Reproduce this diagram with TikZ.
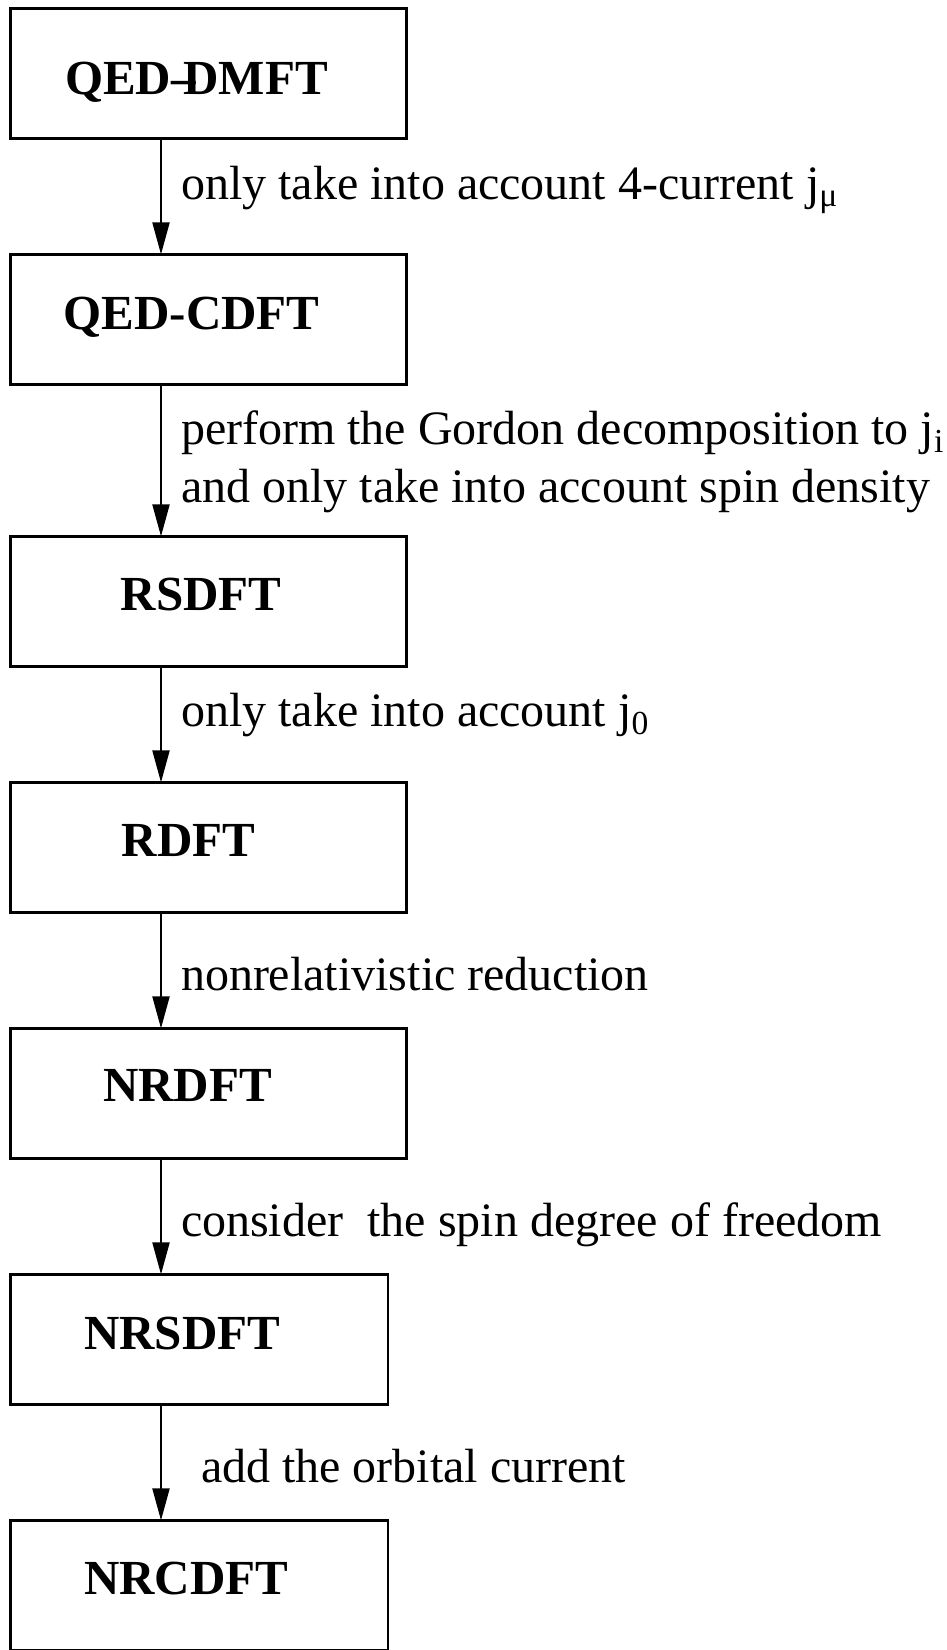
\documentclass[tikz,border=0pt]{standalone}
\usepackage{fontspec}
\setmainfont{Liberation Serif}
\usetikzlibrary{positioning,arrows.meta}

\begin{document}
\begin{tikzpicture}[node distance=58pt,
  box/.style={draw, rectangle, line width=1.2pt, minimum width=198pt, minimum height=65pt, inner sep=0pt, outer sep=0pt},
  short/.style={minimum width=188.75pt},
  title/.style={font=\fontsize{24.5}{28}\selectfont\bfseries, inner sep=0pt, text height=16.2pt, text depth=0pt},
  lbl/.style={anchor=base west, inner sep=0pt, font=\fontsize{24}{28}\selectfont},
  arrow/.style={draw, -{Triangle[length=16pt, width=8.5pt]}, line width=1pt}]
    \useasboundingbox (0,0) rectangle (473.5pt,-825pt);
    % nodes
    \node[box, anchor=north west, label={[title, xshift=-6pt, yshift=-2.5pt]center:QED--\kern-.25em DMFT}] (dmft) at (5.25pt,-4.2pt) {};
    \node[box, below=of dmft, label={[title, xshift=-8.5pt, yshift=3pt]center:QED-CDFT}] (cdft) {};
    \node[box, below=76pt of cdft, label={[title, xshift=-3.75pt, yshift=3.5pt]center:RSDFT}] (rsdft) {};
    \node[box, below=of rsdft, label={[title, xshift=-10pt, yshift=3.5pt]center:RDFT}] (rdft) {};
    \node[box, below=of rdft, label={[title, xshift=-10.5pt, yshift=4pt]center:NRDFT}] (nrdft) {};
    \node[box, short, below=58pt of nrdft.south west, anchor=north west, label={[title, xshift=-8.5pt, yshift=3.25pt]center:NRSDFT}] (nrsdft) {};
    \node[box, short, below=of nrsdft, label={[title, xshift=-6.5pt, yshift=3.5pt]center:NRCDFT}] (nrcdft) {};

    % arrows
    \draw[arrow] ([xshift=75.25pt]dmft.south west) -- node[lbl, xshift=9.5pt, yshift=-1.5pt] {only take into account 4-current j\textsubscript{μ}} ([xshift=75.25pt]cdft.north west);
    \draw[arrow] ([xshift=75.25pt]cdft.south west) -- node[lbl, xshift=9.5pt, yshift=7.75pt] {perform the Gordon decomposition to j\textsubscript{i}} node[lbl, xshift=9.5pt, yshift=-21pt] {and only take into account spin density} ([xshift=75.25pt]rsdft.north west);
    \draw[arrow] ([xshift=75.25pt]rsdft.south west) -- node[lbl, xshift=9.5pt, yshift=-1.25pt] {only take into account j\textsubscript{0}} ([xshift=75.25pt]rdft.north west);
    \draw[arrow] ([xshift=75.25pt]rdft.south west) -- node[lbl, xshift=9.5pt, yshift=-10.25pt] {nonrelativistic reduction} ([xshift=75.25pt]nrdft.north west);
    \draw[arrow] ([xshift=75.25pt]nrdft.south west) -- node[lbl, xshift=9.5pt, yshift=-10pt] {consider\ \ the spin degree of freedom} ([xshift=75.25pt]nrsdft.north west);
    \draw[arrow] ([xshift=75.25pt]nrsdft.south west) -- node[lbl, xshift=19.5pt, yshift=-10pt] {add the orbital current} ([xshift=75.25pt]nrcdft.north west);
\end{tikzpicture}
\end{document}
